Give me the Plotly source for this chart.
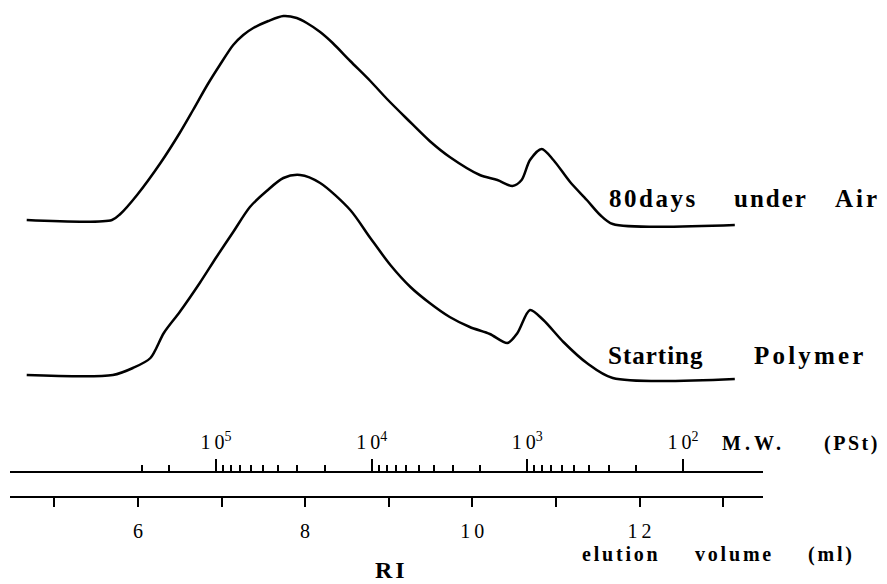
import plotly.graph_objects as go

# ---- data ----
# elution volume (ml) and RI response (arbitrary units) for each trace
elution_air = [4.67, 5.69, 5.79, 5.99, 6.27, 6.50, 6.66, 6.83, 6.98, 7.14, 7.26, 7.38, 7.56, 7.74,
               7.90, 8.02, 8.18, 8.33, 8.54, 8.78, 8.98, 9.22, 9.49, 9.73, 10.09, 10.30, 10.48,
               10.59, 10.69, 10.83, 10.97, 11.17, 11.37, 11.53, 11.68, 13.14]
ri_air = [0, 0, 6, 25, 57, 87, 110, 135, 155, 175, 185, 192, 199, 204,
          202, 197, 188, 177, 159, 139, 121, 101, 79, 63, 45, 40, 34,
          40, 60, 71, 60, 38, 20, 5, -4, -5]

elution_start = [4.67, 5.70, 5.94, 6.15, 6.31, 6.50, 6.74, 6.94, 7.14, 7.34, 7.54, 7.74, 7.94,
                 8.18, 8.54, 8.78, 9.02, 9.26, 9.49, 9.73, 9.97, 10.21, 10.42, 10.54,
                 10.69, 10.85, 11.09, 11.37, 11.68, 13.14]
ri_start = [0, 0, 7, 17, 42, 63, 92, 118, 143, 168, 184, 197, 200,
            192, 165, 137, 110, 88, 72, 58, 48, 41, 32, 42,
            65, 55, 33, 12, -3, -4]

series_words = [["80days", "under", "Air"], ["Starting", "Polymer"]]

volume_major = [6, 8, 10, 12]
volume_major_text = ["6", "8", "1\u20090", "1\u20092"]
volume_minor = [5, 7, 9, 11, 13]

mw_major = [1e5, 1e4, 1e3, 1e2]
mw_major_text = ["1\u20090<sup>5</sup>", "1\u20090<sup>4</sup>",
                 "1\u20090<sup>3</sup>", "1\u20090<sup>2</sup>"]
mw_minor = [3e5, 2e5] + [m * 10 ** e for e in (4, 3, 2) for m in (9, 8, 7, 6, 5, 4, 3, 2)]

# ---- layout helpers (pixel -> paper) ----
W, H = 887, 584
L, R = 10, 763


def px(p):
    return (p - L) / (R - L)


def py(p):
    return 1 - p / H


SERIF = "Liberation Serif, Times New Roman, serif"

fig = go.Figure()

offsets = [H - 220, H - 375]
for words, xs, ys, off in [(series_words[0], elution_air, ri_air, offsets[0]),
                           (series_words[1], elution_start, ri_start, offsets[1])]:
    fig.add_trace(go.Scatter(
        x=xs, y=[v + off for v in ys], mode="lines", name=" ".join(words),
        line=dict(color="black", width=2.5, shape="spline", smoothing=0.8),
        showlegend=False, hoverinfo="skip"))

# invisible trace that carries the molecular-weight axis
fig.add_trace(go.Scatter(x=mw_major, y=[None] * len(mw_major), xaxis="x2", mode="markers",
                         showlegend=False, hoverinfo="skip"))

v_lo = 9 + (L - 388.7) / 83.6
v_hi = 9 + (R - 388.7) / 83.6
lg_lo = 5 - (L - 216) / 155.67
lg_hi = 5 - (R - 216) / 155.67

fig.update_layout(
    width=W, height=H,
    margin=dict(l=L, r=W - R, t=0, b=0),
    paper_bgcolor="white", plot_bgcolor="white",
    font=dict(family=SERIF, color="black"),
    xaxis=dict(
        range=[v_lo, v_hi], anchor="free", position=py(497),
        showline=True, linecolor="black", linewidth=2,
        showgrid=False, zeroline=False,
        tickmode="array", tickvals=volume_major, ticktext=volume_major_text,
        ticks="outside", ticklen=9, tickwidth=2, tickcolor="black",
        ticklabelstandoff=7,
        tickfont=dict(family=SERIF, size=20, color="black"),
        minor=dict(tickmode="array", tickvals=volume_minor, ticks="outside",
                   ticklen=9, tickwidth=2, tickcolor="black", showgrid=False),
    ),
    xaxis2=dict(
        type="log", range=[lg_lo, lg_hi], overlaying="x", anchor="free", position=py(472),
        side="top",
        showline=True, linecolor="black", linewidth=2,
        showgrid=False, zeroline=False,
        tickmode="array", tickvals=mw_major, ticktext=mw_major_text,
        ticks="outside", ticklen=12, tickwidth=2, tickcolor="black",
        ticklabelstandoff=2,
        tickfont=dict(family=SERIF, size=20, color="black"),
        minor=dict(tickmode="array", tickvals=mw_minor, ticks="outside",
                   ticklen=6, tickwidth=1.5, tickcolor="black", showgrid=False),
    ),
    yaxis=dict(range=[0, H], visible=False, domain=[0, 1], fixedrange=True),
)


def word(text, x, y, size, spacing, anchor="left"):
    return dict(text='<b><span style="letter-spacing:%.1fpx">%s</span></b>' % (spacing, text),
                x=px(x), y=py(y), xanchor=anchor, yanchor="middle",
                xref="paper", yref="paper", showarrow=False,
                font=dict(family=SERIF, size=size, color="black"))


ann = []
for w, x0, sp in zip(series_words[0], [607, 732, 833], [2.5, 2.0, 3.0]):
    ann.append(word(w, x0, 199, 25, sp))
for w, x0, sp in zip(series_words[1], [606, 752], [1.0, 3.2]):
    ann.append(word(w, x0, 355, 25, sp))
for w, x0, sp in zip(["M.W.", "(PSt)"], [720, 822], [4.0, 2.5]):
    ann.append(word(w, x0, 443, 20, sp))
for w, x0 in zip(["elution", "volume", "(ml)"], [580, 693, 806]):
    ann.append(word(w, x0, 554, 20, 2.8))
ann.append(word("RI", 373, 570, 24, 3.0))
fig.update_layout(annotations=ann)

fig.write_html("out.html", config={"displayModeBar": False},
               post_script="document.body.style.margin='0';")
